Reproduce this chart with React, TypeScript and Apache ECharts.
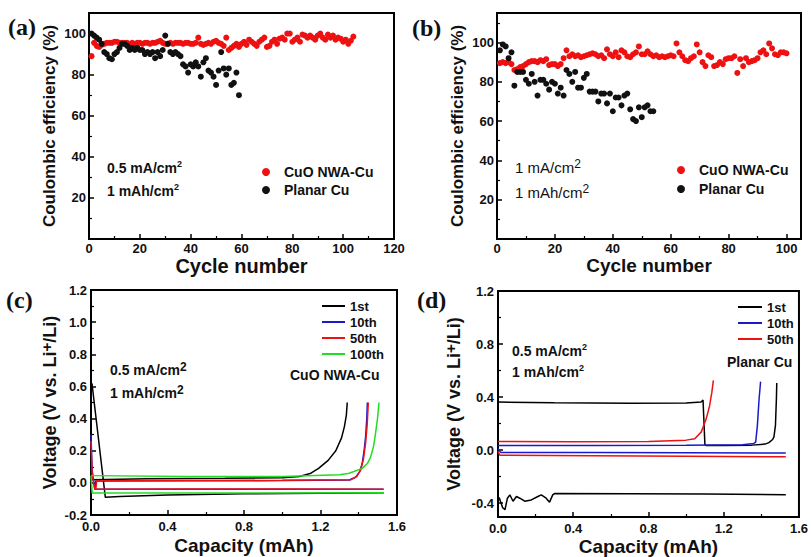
import React, { useEffect, useRef } from "react";
import * as echarts from "echarts";

const FONT = '"Liberation Sans", Arial, Helvetica, sans-serif';
const SERIF = '"Liberation Serif", "Times New Roman", serif';

// (a) coulombic efficiency, 0.5 mA/cm2
const ceA_CuO = [89, 95.5, 94, 93.5, 94.5, 95, 95.5, 95.5, 95.5, 96, 96, 95.5, 95.5, 95.5, 95.5, 95, 95.5, 95, 95.5, 95.5,
  95, 95.5, 95.5, 95, 95.5, 95.5, 96, 96.5, 95.5, 95, 95, 95.5, 95, 95.5, 95.5, 95.5, 95, 95.5, 95.5, 95,
  95, 95.5, 98, 95, 94.5, 95, 95.5, 95, 96, 96.5, 95.5, 95, 94, 98, 92, 93, 94, 95, 93.5, 95,
  96, 94.5, 97, 96, 95, 94, 96, 97, 98, 93.5, 94, 96, 97, 95, 97.5, 98, 97, 100, 100, 96,
  97, 98, 96, 99.5, 99, 98, 99, 98, 97, 99, 100, 98, 97, 99.5, 98, 99, 97, 98, 97.5, 96,
  97, 95, 96.5, 98.5];
const ceA_Planar = [100, 99, 98, 97, 95, 91, 90, 88, 87.5, 90, 91, 93, 95, 95, 94, 92, 93, 92, 93, 92,
  92, 90, 91, 90, 91, 88, 91, 89, 92, 99, 95, 91, 90, 91, 90, 89, 85, 84, 81, 85,
  84, 86, 84, 79, 86, 88, 82, 81, 79, 75, 82, 91, 83, 80, 83, 75, 76, 81, 70];

// (b) coulombic efficiency, 1 mA/cm2
const ceB_CuO = [89.5, 90, 89.5, 90, 89, 86, 86.5, 87.5, 88, 89, 90, 90.5, 90.5, 90, 91, 90.5, 91.5, 88.5, 89, 89,
  88, 89, 92, 96, 93, 94, 93, 93.5, 92.5, 93, 93.5, 94, 94.5, 94, 93, 93.5, 92, 96.5, 94, 93,
  95, 92.5, 96, 95, 93, 92.5, 94, 95, 98, 94, 94, 95.5, 94, 93, 93.5, 92.5, 93, 92.5, 93, 93.5,
  93, 99.5, 95, 93, 91, 90.5, 92, 93, 99, 95, 90, 88, 93.5, 92.5, 88, 88.5, 90, 89, 91.5, 92,
  92, 93, 84.5, 91.5, 88, 92, 90, 90.5, 91, 92, 95, 96, 94, 99.5, 97, 94, 93.5, 95, 95, 94.5];
const ceB_Planar = [96, 99, 98, 92, 95, 78, 85, 85, 85, 81, 79, 84, 80, 73, 81, 81, 79, 76, 80, 79,
  74, 77, 73, 86, 84, 80, 85, 77, 77, 82, 84, 75, 75, 75, 70, 74, 74, 69, 74, 65,
  72, 72, 68, 73, 74, 66, 61, 60, 67, 62, 67, 68, 65, 65];

// (c) CuO NWA-Cu voltage profiles [capacity mAh, voltage V]
const c1stDis = [[0.005, 0.62], [0.075, -0.09], [0.15, -0.085], [0.4, -0.075], [0.8, -0.068], [1.2, -0.064], [1.53, -0.062]];
const c1stCha = [[0.0, 0.02], [0.3, 0.025], [0.7, 0.028], [1.0, 0.032], [1.09, 0.04], [1.15, 0.06], [1.19, 0.09], [1.24, 0.14], [1.28, 0.2], [1.31, 0.28], [1.325, 0.35], [1.335, 0.42], [1.34, 0.5]];
const c10Dis = [[0.0, 0.3], [0.006, 0.08], [0.02, -0.04], [0.5, -0.04], [1.0, -0.04], [1.53, -0.04]];
const c10Cha = [[0.02, -0.04], [0.025, 0.012], [0.5, 0.013], [1.0, 0.014], [1.35, 0.018], [1.384, 0.035], [1.405, 0.07], [1.418, 0.12], [1.428, 0.2], [1.436, 0.29], [1.442, 0.4], [1.445, 0.5]];
const c50Dis = [[0.0, 0.26], [0.006, 0.05], [0.02, -0.04], [0.5, -0.038], [1.0, -0.038], [1.53, -0.04]];
const c50Cha = [[0.025, -0.04], [0.03, 0.013], [0.5, 0.014], [1.0, 0.016], [1.36, 0.02], [1.39, 0.04], [1.41, 0.08], [1.425, 0.15], [1.436, 0.25], [1.444, 0.36], [1.45, 0.5]];
const c100Dis = [[0.0, 0.045], [0.006, -0.063], [0.5, -0.063], [1.0, -0.063], [1.53, -0.062]];
const c100Cha = [[0.0, 0.045], [0.5, 0.04], [1.0, 0.04], [1.3, 0.05], [1.35, 0.06], [1.418, 0.09], [1.445, 0.12], [1.462, 0.16], [1.478, 0.23], [1.488, 0.31], [1.498, 0.4], [1.506, 0.5]];

// (d) Planar Cu voltage profiles
const d1stDis = [[0.0, -0.37], [0.0075, -0.377], [0.025, -0.45], [0.037, -0.465], [0.05, -0.377], [0.063, -0.352], [0.08, -0.4], [0.098, -0.364], [0.116, -0.377], [0.142, -0.4], [0.177, -0.39], [0.212, -0.364], [0.23, -0.352], [0.256, -0.377], [0.274, -0.407], [0.291, -0.352], [0.3, -0.342], [0.7, -0.343], [1.1, -0.345], [1.53, -0.35]];
const d1stCha = [[0.0, 0.355], [0.3, 0.35], [0.7, 0.345], [1.0, 0.348], [1.08, 0.355], [1.09, 0.37], [1.1, 0.03], [1.105, 0.025], [1.2, 0.025], [1.35, 0.027], [1.42, 0.035], [1.44, 0.046], [1.46, 0.07], [1.467, 0.09], [1.475, 0.177], [1.48, 0.378], [1.482, 0.5]];
const d10Dis = [[0.0, 0.0], [0.015, -0.03], [0.5, -0.03], [1.0, -0.031], [1.53, -0.033]];
const d10Cha = [[0.0, 0.025], [0.5, 0.025], [1.0, 0.026], [1.3, 0.03], [1.36, 0.04], [1.37, 0.05], [1.379, 0.177], [1.388, 0.378], [1.396, 0.51]];
const d50Dis = [[0.0, -0.02], [0.01, -0.05], [0.5, -0.053], [1.0, -0.057], [1.53, -0.062]];
const d50Cha = [[0.0, 0.055], [0.4, 0.052], [0.8, 0.055], [1.0, 0.065], [1.046, 0.076], [1.08, 0.126], [1.107, 0.227], [1.125, 0.327], [1.137, 0.43], [1.145, 0.52]];

const RED = "#ee1111";
const BLACK = "#111111";
const BLUE = "#1a1acc";
const GREEN = "#22dd22";

const labelStyle = { color: "#111", fontSize: 13, fontWeight: "bold", fontFamily: FONT };
const axisLine = { show: true, onZero: false, lineStyle: { color: "#000", width: 2 } };
const axisTick = { show: true, inside: true, length: 5, lineStyle: { color: "#000", width: 1.5 } };
const minorTick = { show: true, splitNumber: 2, length: 3, lineStyle: { color: "#000", width: 1.2 } };

function xName(text: string, size: number, gap: number) {
  return {
    name: text, nameLocation: "middle", nameGap: gap,
    nameTextStyle: { fontSize: size, fontWeight: "bold", fontFamily: FONT, color: "#111" },
  };
}
function yName(text: string, size: number, gap: number) {
  return {
    name: text, nameLocation: "middle", nameGap: gap,
    nameTextStyle: {
      fontSize: size, fontWeight: "bold", fontFamily: FONT, color: "#111", lineHeight: size + 4,
      rich: { s: { fontSize: size - 3, fontWeight: "bold", fontFamily: FONT, color: "#111", verticalAlign: "top", lineHeight: 10 } },
    },
  };
}
const fmtRange = (lo: number, hi: number, digits: number) => (v: number) =>
  v >= lo - 1e-9 && v <= hi + 1e-9 ? v.toFixed(digits) : "";

function richText(x: number, y: number, text: string, size: number, supSize: number, weight = "bold") {
  return {
    type: "text", x, y,
    style: {
      text, fill: "#111", fontSize: size, fontWeight: weight, fontFamily: FONT, lineHeight: size + 4,
      verticalAlign: "middle", align: "left",
      rich: { s: { fontSize: supSize, fontWeight: weight, fontFamily: FONT, fill: "#111", verticalAlign: "top", lineHeight: 9 } },
    },
  };
}
function panelLabel(x: number, y: number, text: string) {
  return {
    type: "text", x, y,
    style: { text, fill: "#111", fontSize: 24, fontWeight: "bold", fontFamily: SERIF, verticalAlign: "middle", align: "left" },
  };
}

const scatter = (name: string, data: number[], color: string, idx: number) => ({
  type: "scatter", name, xAxisIndex: idx, yAxisIndex: idx, symbolSize: 6,
  itemStyle: { color, opacity: 1 }, data: data.map((v, i) => [i + 1, v]),
});
const curve = (name: string, data: number[][], color: string, idx: number) => ({
  type: "line", name, xAxisIndex: idx, yAxisIndex: idx, symbol: "none", showSymbol: false,
  lineStyle: { color, width: 1.5 }, itemStyle: { color }, data,
});

const gridBase = { show: true, borderColor: "#000", borderWidth: 2, backgroundColor: "transparent", containLabel: false };
const legendText = (size: number, lh: number) => ({ fontSize: size, fontWeight: "bold", fontFamily: FONT, color: "#111", lineHeight: lh });

const option: any = {
  animation: false,
  backgroundColor: "#fff",
  textStyle: { fontFamily: FONT },
  grid: [
    { ...gridBase, left: 89, top: 13, width: 305, height: 226 },
    { ...gridBase, left: 497, top: 13, width: 304, height: 226 },
    { ...gridBase, left: 91, top: 290, width: 306, height: 225 },
    { ...gridBase, left: 498, top: 291, width: 304, height: 228 },
    { show: false, left: 498, top: 291, width: 304, height: 212 },
  ],
  xAxis: [
    { type: "value", gridIndex: 0, min: 0, max: 120, interval: 20, axisLine, axisTick, minorTick, splitLine: { show: false },
      axisLabel: { ...labelStyle, margin: 3 }, ...xName("Cycle number", 20, 13) },
    { type: "value", gridIndex: 1, min: 0, max: 105, interval: 20, axisLine, axisTick, minorTick, splitLine: { show: false },
      axisLabel: { ...labelStyle, margin: 3, formatter: fmtRange(0, 100, 0) }, ...xName("Cycle number", 19, 13) },
    { type: "value", gridIndex: 2, min: 0, max: 1.6, interval: 0.4, axisLine, axisTick, minorTick, splitLine: { show: false },
      axisLabel: { ...labelStyle, margin: 5, formatter: (v: number) => v.toFixed(1) }, ...xName("Capacity (mAh)", 19, 21) },
    { type: "value", gridIndex: 3, min: 0, max: 1.6, interval: 0.4, axisLine, axisTick, minorTick, splitLine: { show: false },
      axisLabel: { ...labelStyle, margin: 5, formatter: (v: number) => v.toFixed(1) }, ...xName("Capacity (mAh)", 19, 20) },
    { type: "value", gridIndex: 4, min: 0, max: 1.6, show: false },
  ],
  yAxis: [
    { type: "value", gridIndex: 0, min: 0, max: 110, interval: 20, axisLine, axisTick, minorTick, splitLine: { show: false },
      axisLabel: { ...labelStyle, margin: 3, formatter: fmtRange(20, 100, 0) }, ...yName("Coulombic efficiency (%)", 17, 26) },
    { type: "value", gridIndex: 1, min: 0, max: 115, interval: 20, axisLine, axisTick, minorTick, splitLine: { show: false },
      axisLabel: { ...labelStyle, margin: 3, formatter: fmtRange(20, 100, 0) }, ...yName("Coulombic efficiency (%)", 17, 25) },
    { type: "value", gridIndex: 2, min: -0.2, max: 1.2, interval: 0.2, axisLine, axisTick, minorTick, splitLine: { show: false },
      axisLabel: { ...labelStyle, margin: 4, formatter: (v: number) => v.toFixed(1) }, ...yName("Voltage (V vs. Li{s|+}/Li)", 18, 20) },
    { type: "value", gridIndex: 3, min: -0.52, max: 1.2, axisLine, axisTick: { show: false }, axisLabel: { show: false },
      splitLine: { show: false }, ...yName("Voltage (V vs. Li{s|+}/Li)", 18, 33) },
    { type: "value", gridIndex: 4, min: -0.4, max: 1.2, interval: 0.4, axisLine: { show: false }, axisTick, minorTick,
      splitLine: { show: false }, axisLabel: { ...labelStyle, margin: 4, formatter: (v: number) => v.toFixed(1) } },
  ],
  legend: [
    { left: 262, top: 164, orient: "vertical", padding: 0, itemGap: 2, itemWidth: 26, itemHeight: 8, icon: "circle",
      selectedMode: false, data: ["CuO NWA-Cu", "Planar Cu"], textStyle: legendText(14, 16) },
    { left: 677, top: 162, orient: "vertical", padding: 0, itemGap: 3, itemWidth: 26, itemHeight: 8, icon: "circle",
      selectedMode: false, data: ["CuO NWA-Cu", "Planar Cu"], textStyle: legendText(14, 16) },
    { left: 322, top: 299, orient: "vertical", padding: 0, itemGap: 2, itemWidth: 23, itemHeight: 2, icon: "rect",
      selectedMode: false, data: ["1st", "10th", "50th", "100th"], textStyle: legendText(13, 14) },
    { left: 738, top: 300, orient: "vertical", padding: 0, itemGap: 2, itemWidth: 24, itemHeight: 2, icon: "rect",
      selectedMode: false, data: ["1st", "10th", "50th"], textStyle: legendText(13, 14) },
  ],
  series: [
    scatter("CuO NWA-Cu", ceA_CuO, RED, 0),
    scatter("Planar Cu", ceA_Planar, BLACK, 0),
    scatter("CuO NWA-Cu", ceB_CuO, RED, 1),
    scatter("Planar Cu", ceB_Planar, BLACK, 1),
    curve("1st", c1stDis, "#000", 2),
    curve("1st", c1stCha, "#000", 2),
    curve("10th", c10Dis, BLUE, 2),
    curve("10th", c10Cha, BLUE, 2),
    curve("50th", c50Dis, RED, 2),
    curve("50th", c50Cha, RED, 2),
    curve("100th", c100Dis, GREEN, 2),
    curve("100th", c100Cha, GREEN, 2),
    curve("1st", d1stDis, "#000", 3),
    curve("1st", d1stCha, "#000", 3),
    curve("10th", d10Dis, BLUE, 3),
    curve("10th", d10Cha, BLUE, 3),
    curve("50th", d50Dis, RED, 3),
    curve("50th", d50Cha, RED, 3),
  ],
  graphic: [
    panelLabel(8, 27, "(a)"),
    panelLabel(412, 28, "(b)"),
    panelLabel(6, 300, "(c)"),
    panelLabel(417, 300, "(d)"),
    richText(107, 168, "0.5 mA/cm{s|2}", 14, 9),
    richText(107, 191, "1 mAh/cm{s|2}", 14, 9),
    richText(515, 167, "1 mA/cm{s|2}", 15, 12, "normal"),
    richText(515, 192, "1 mAh/cm{s|2}", 15, 12, "normal"),
    richText(110, 370, "0.5 mA/cm{s|2}", 14, 12),
    richText(110, 393, "1 mAh/cm{s|2}", 14, 12),
    richText(290, 375, "CuO NWA-Cu", 14, 9),
    richText(512, 351, "0.5 mA/cm{s|2}", 14, 9),
    richText(512, 372, "1 mAh/cm{s|2}", 14, 9),
    richText(727, 362, "Planar Cu", 14, 9),
  ],
};

export default function App() {
  const ref = useRef<HTMLDivElement>(null);
  useEffect(() => {
    const chart = echarts.init(ref.current!, null, { renderer: "svg" });
    chart.setOption(option);
    return () => chart.dispose();
  }, []);
  return (
    <div
      ref={ref}
      style={{ position: "absolute", left: 0, top: 0, width: 811, height: 557, background: "#fff" }}
    />
  );
}
